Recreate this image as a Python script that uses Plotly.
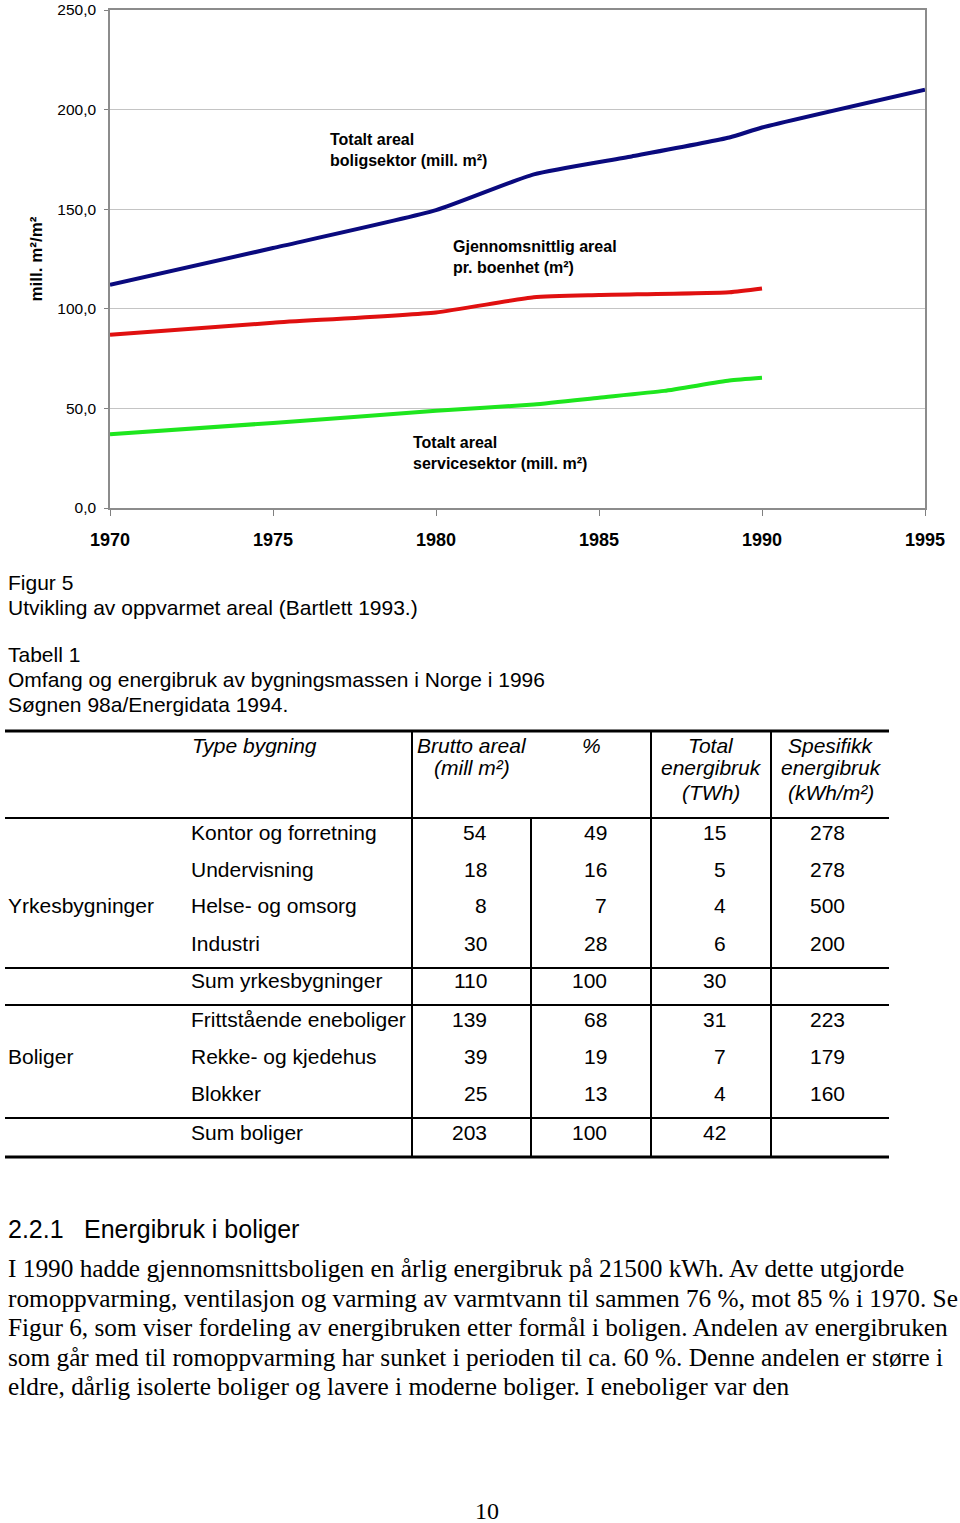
import plotly.graph_objects as go

W, H = 960, 1523

# ---------------- chart data ----------------
years_bolig = [1970, 1975, 1980, 1983, 1986, 1989, 1990, 1995]
bolig_areal = [112, 130.5, 149.5, 167.5, 176.5, 186, 191, 210]

years_snitt = [1970, 1975, 1980, 1983, 1985, 1989, 1990]
snitt_areal = [87, 93, 98.2, 105.8, 106.9, 108.3, 110.2]

years_service = [1970, 1975, 1980, 1983, 1985, 1987, 1989, 1990]
service_areal = [37, 42.7, 48.8, 52, 55.4, 58.8, 64, 65.4]

x_ticks = [1970, 1975, 1980, 1985, 1990, 1995]
y_ticks = [0, 50, 100, 150, 200, 250]
y_ticklabels = ["0,0", "50,0", "100,0", "150,0", "200,0", "250,0"]

# ---------------- table data ----------------
table_headers = ["Type bygning", "Brutto areal|(mill m²)", "%",
                 "Total|energibruk|(TWh)", "Spesifikk|energibruk|(kWh/m²)"]
groups = ["Yrkesbygninger", "Boliger"]
types = ["Kontor og forretning", "Undervisning", "Helse- og omsorg", "Industri",
         "Sum yrkesbygninger", "Frittstående eneboliger", "Rekke- og kjedehus",
         "Blokker", "Sum boliger"]
brutto = ["54", "18", "8", "30", "110", "139", "39", "25", "203"]
prosent = ["49", "16", "7", "28", "100", "68", "19", "13", "100"]
total_energi = ["15", "5", "4", "6", "30", "31", "7", "4", "42"]
spesifikk = ["278", "278", "500", "200", "", "223", "179", "160", ""]

body_lines = [
    "I 1990 hadde gjennomsnittsboligen en årlig energibruk på 21500 kWh. Av dette utgjorde",
    "romoppvarming, ventilasjon og varming av varmtvann til sammen 76 %, mot 85 % i 1970. Se",
    "Figur 6, som viser fordeling av energibruken etter formål i boligen. Andelen av energibruken",
    "som går med til romoppvarming har sunket i perioden til ca. 60 %. Denne andelen er større i",
    "eldre, dårlig isolerte boliger og lavere i moderne boliger. I eneboliger var den",
]


def px(x):
    return x / W


def py(y):
    return 1 - y / H


SANS = "Liberation Sans, Arial, sans-serif"
SERIF = "Liberation Serif, Times New Roman, serif"

fig = go.Figure()
line_style = dict(width=4, shape="spline", smoothing=0.5)
fig.add_trace(go.Scatter(x=years_bolig, y=bolig_areal, mode="lines",
                         line=dict(color="#0a0a7e", **line_style), showlegend=False))
fig.add_trace(go.Scatter(x=years_snitt, y=snitt_areal, mode="lines",
                         line=dict(color="#e01010", **line_style), showlegend=False))
fig.add_trace(go.Scatter(x=years_service, y=service_areal, mode="lines",
                         line=dict(color="#1ee61e", **line_style), showlegend=False))

ann = []


def text(t, x, y, size=21, font=SANS, xanchor="left", bold=False, italic=False):
    s = t
    if bold:
        s = "<b>" + s + "</b>"
    if italic:
        s = "<i>" + s + "</i>"
    # compensate annotation inner padding
    if xanchor == "left":
        x -= 2
    elif xanchor == "right":
        x += 2
    ann.append(dict(text=s, x=px(x), y=py(y), xref="paper", yref="paper",
                    xanchor=xanchor, yanchor="middle", showarrow=False,
                    font=dict(family=font, size=size, color="black"),
                    align=xanchor if xanchor != "center" else "center"))


# chart labels
text("Totalt areal<br>boligsektor (mill. m²)", 330, 150, size=16, bold=True)
text("Gjennomsnittlig areal<br>pr. boenhet (m²)", 453, 257, size=16, bold=True)
text("Totalt areal<br>servicesektor (mill. m²)", 413, 453, size=16, bold=True)

# captions
text("Figur 5", 8, 582)
text("Utvikling av oppvarmet areal (Bartlett 1993.)", 8, 607)
text("Tabell 1", 8, 655)
text("Omfang og energibruk av bygningsmassen i Norge i 1996", 8, 680)
text("Søgnen 98a/Energidata 1994.", 8, 704)

# table header
header_y = [745, 768, 792]
text(table_headers[0], 192, header_y[0], italic=True)
col_centers = [472, 591, 711, 831]
for h, cx in zip(table_headers[1:], col_centers):
    for i, part in enumerate(h.split("|")):
        text(part, cx, header_y[i], xanchor="center", italic=True)

row_y = [832, 869, 906, 943, 981, 1019, 1056, 1093, 1132]
text(groups[0], 8, row_y[2])
text(groups[1], 8, row_y[6])
num_right = [487, 607, 726, 845]
for i, yv in enumerate(row_y):
    text(types[i], 191, yv)
    for col, xr in zip([brutto, prosent, total_energi, spesifikk], num_right):
        if col[i]:
            text(col[i], xr, yv, xanchor="right")

# body
text("2.2.1", 8, 1229, size=25)
text("Energibruk i boliger", 84, 1229, size=25)
body_y = [1268, 1298, 1327, 1357, 1386]
for t, yv in zip(body_lines, body_y):
    text(t, 8, yv, size=25.3, font=SERIF)
text("10", 487, 1511, size=24, font=SERIF, xanchor="center")

# table rules
shapes = []


def hline(y, x0, x1, w):
    shapes.append(dict(type="line", xref="paper", yref="paper", x0=px(x0), x1=px(x1),
                       y0=py(y), y1=py(y), line=dict(color="black", width=w)))


def vline(x, y0, y1, w):
    shapes.append(dict(type="line", xref="paper", yref="paper", x0=px(x), x1=px(x),
                       y0=py(y0), y1=py(y1), line=dict(color="black", width=w)))


hline(731, 5, 889, 3)
hline(818, 5, 889, 2)
hline(968, 5, 889, 2)
hline(1005, 5, 889, 2)
hline(1118, 5, 889, 2)
hline(1157, 5, 889, 3)
vline(412, 731, 1157, 2)
vline(531, 818, 1157, 2)
vline(651, 731, 1157, 2)
vline(771, 731, 1157, 2)

fig.update_layout(
    width=W, height=H,
    margin=dict(l=0, r=0, t=0, b=0),
    paper_bgcolor="white", plot_bgcolor="white",
    annotations=ann, shapes=shapes,
    xaxis=dict(domain=[px(110), px(925)], range=[1970, 1995], tickvals=x_ticks,
               ticks="outside", ticklen=6, tickcolor="#808080",
               showline=True, linecolor="#8c8c8c", linewidth=1.5, mirror=True,
               showgrid=False, zeroline=False, automargin=False,
               tickfont=dict(family=SANS, size=18, color="black", weight="bold"),
               ticklabelstandoff=9, ticklabeloverflow="allow"),
    yaxis=dict(domain=[py(508), py(10)], range=[0, 250], tickvals=y_ticks,
               ticktext=y_ticklabels, ticks="outside", ticklen=4, tickcolor="#808080",
               showline=True, linecolor="#8c8c8c", linewidth=1.5, mirror=True,
               showgrid=True, gridcolor="#c4c4c4", gridwidth=1, zeroline=False,
               automargin=False,
               tickfont=dict(family=SANS, size=15.5, color="black"),
               ticklabelstandoff=5, ticklabeloverflow="allow",
               title=dict(text="<b>mill. m²/m²</b>", standoff=10,
                          font=dict(family=SANS, size=17, color="black"))),
)

fig.write_html("out.html")
